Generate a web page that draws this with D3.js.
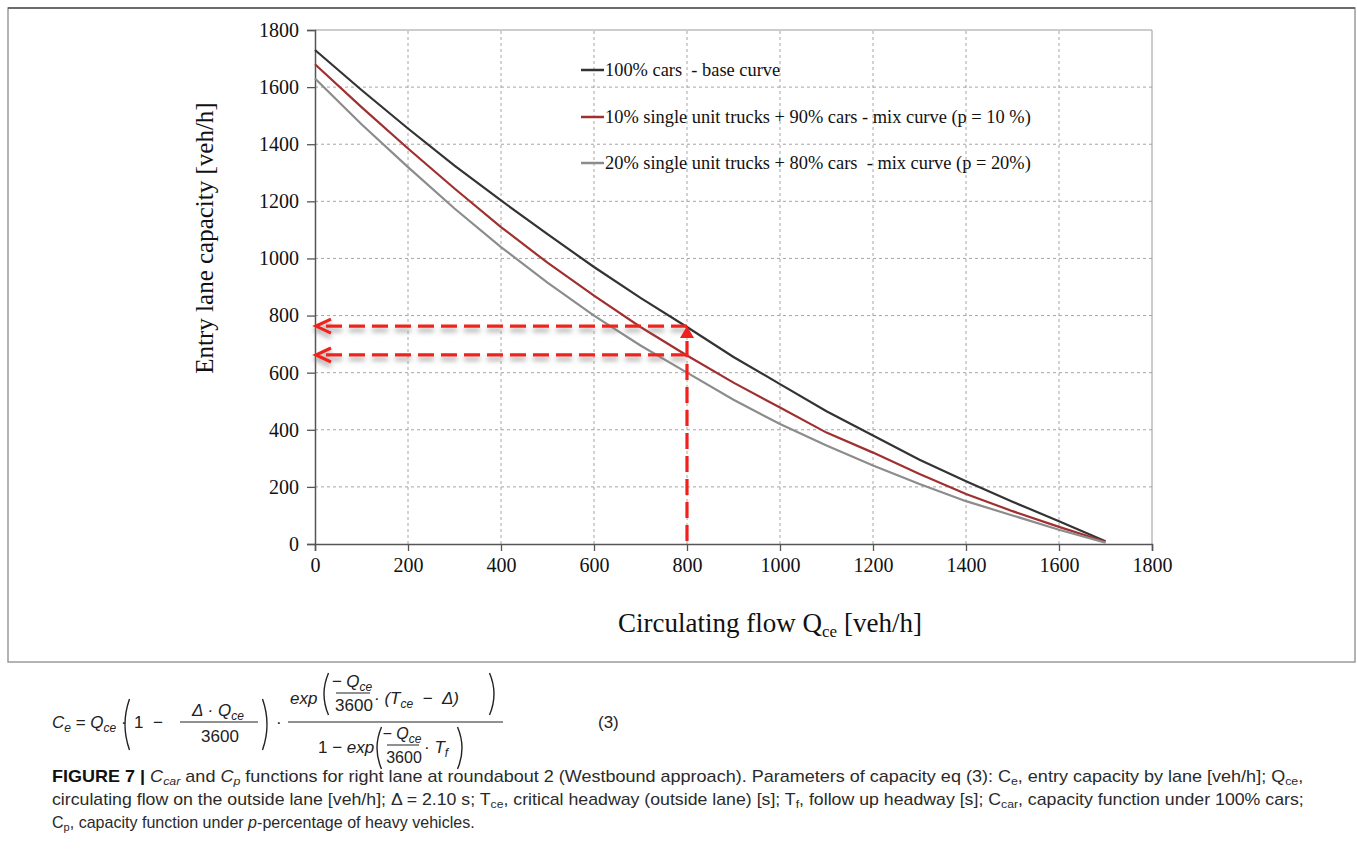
<!DOCTYPE html>
<html><head><meta charset="utf-8">
<script src="https://cdn.jsdelivr.net/npm/d3@7/dist/d3.min.js"></script>
<style>
html,body{margin:0;padding:0;background:#fff;}
svg{display:block;}
</style></head>
<body>
<svg id="chart" width="1357" height="852"></svg>
<script>
// ---- data ----
const flows = [0,100,200,300,400,500,600,700,800,900,1000,1100,1200,1300,1400,1500,1600,1700];
const baseCurve = [1730,1590,1455,1325,1203,1085,970,862,760,655,560,465,380,295,220,148,80,10];
const mix10Curve = [1680,1530,1385,1245,1110,985,870,760,660,565,478,390,320,245,175,115,60,8];
const mix20Curve = [1630,1470,1320,1175,1040,915,800,695,600,505,420,345,275,210,150,100,50,5];
const seriesNames = ["100% cars  - base curve","10% single unit trucks + 90% cars - mix curve (p = 10 %)","20% single unit trucks + 80% cars  - mix curve (p = 20%)"];
const xTicks = [0,200,400,600,800,1000,1200,1400,1600,1800];
const yTicks = [0,200,400,600,800,1000,1200,1400,1600,1800];
const refFlow = 800;
const refCapBase = 763;
const refCapMix = 662;

const svg = d3.select("#chart");
const serif = "'Liberation Serif','Times New Roman',serif";
const sans = "'Liberation Sans',Arial,sans-serif";

// frame
svg.append("rect").attr("x",8).attr("y",8).attr("width",1347).attr("height",654)
  .attr("fill","none").attr("stroke","#9a9a9a").attr("stroke-width",1.5);
svg.append("line").attr("x1",8).attr("x2",1355).attr("y1",8).attr("y2",8).attr("stroke","#555").attr("stroke-width",1.5);

const x = d3.scaleLinear().domain([0,1800]).range([315,1152]);
const y = d3.scaleLinear().domain([0,1800]).range([544,30]);

// grid
const g = svg.append("g");
g.selectAll("line.vg").data(xTicks.filter(d=>d>0 && d<1800)).enter().append("line")
  .attr("x1",d=>x(d)).attr("x2",d=>x(d)).attr("y1",y(0)).attr("y2",y(1800))
  .attr("stroke","#a6a6a6").attr("stroke-width",1).attr("stroke-dasharray","3,3");
g.selectAll("line.hg").data(yTicks.filter(d=>d>0 && d<1800)).enter().append("line")
  .attr("x1",x(0)).attr("x2",x(1800)).attr("y1",d=>y(d)).attr("y2",d=>y(d))
  .attr("stroke","#a6a6a6").attr("stroke-width",1).attr("stroke-dasharray","3,3");
g.append("line").attr("x1",x(0)).attr("x2",x(1800)).attr("y1",y(1800)).attr("y2",y(1800)).attr("stroke","#9a9a9a");
g.append("line").attr("x1",x(1800)).attr("x2",x(1800)).attr("y1",y(1800)).attr("y2",y(0)).attr("stroke","#9a9a9a");

// axes
const xAxis = svg.append("g").attr("transform",`translate(0,${y(0)})`)
  .call(d3.axisBottom(x).tickValues(xTicks).tickSize(7).tickPadding(7).tickFormat(d3.format("d")));
const yAxis = svg.append("g").attr("transform",`translate(${x(0)},0)`)
  .call(d3.axisLeft(y).tickValues(yTicks).tickSize(8).tickPadding(8).tickFormat(d3.format("d")));
[xAxis,yAxis].forEach(a=>{
  a.select(".domain").attr("stroke","#555").attr("stroke-width",1.5);
  a.selectAll(".tick line").attr("stroke","#555").attr("stroke-width",1.3);
  a.selectAll(".tick text").attr("font-family",serif).attr("font-size",20).attr("fill","#111");
});

// curves
const colors = ["#333333","#a03030","#8c8c8c"];
const data = [baseCurve,mix10Curve,mix20Curve];
const line = d3.line().x((d,i)=>x(flows[i])).y(d=>y(d));
data.forEach((s,k)=>{
  svg.append("path").datum(s).attr("d",line).attr("fill","none")
    .attr("stroke",colors[k]).attr("stroke-width",2.2);
});

// legend
const legY = [70,117,163];
seriesNames.forEach((n,k)=>{
  svg.append("line").attr("x1",581).attr("x2",604).attr("y1",legY[k]).attr("y2",legY[k])
    .attr("stroke",colors[k]).attr("stroke-width",2.5);
  svg.append("text").attr("x",605).attr("y",legY[k]+6).text(n)
    .attr("font-family",serif).attr("font-size",18.4).attr("fill","#111")
    .style("white-space","pre");
});

// axis titles
svg.append("text").attr("transform",`translate(213,238) rotate(-90)`).attr("text-anchor","middle")
  .attr("font-family",serif).attr("font-size",25).attr("fill","#111").text("Entry lane capacity [veh/h]");
const xt = svg.append("text").attr("x",770).attr("y",632).attr("text-anchor","middle")
  .attr("font-family",serif).attr("font-size",27).attr("fill","#111");
xt.append("tspan").text("Circulating flow Q");
xt.append("tspan").attr("font-size",17).attr("dy",5).text("ce");
xt.append("tspan").attr("dy",-5).text(" [veh/h]");

// red dashed arrows
const defs = svg.append("defs");
const f = defs.append("filter").attr("id","sh").attr("x","-10%").attr("y","-200%").attr("width","120%").attr("height","500%");
f.append("feDropShadow").attr("dx",0).attr("dy",4).attr("stdDeviation",2.5).attr("flood-color","#777").attr("flood-opacity",0.7);
const red = "#f0201c";
const ag = svg.append("g");
function hArrow(v){
  const gg = ag.append("g").attr("filter","url(#sh)");
  gg.append("line").attr("x1",x(refFlow)).attr("x2",x(0)+3).attr("y1",y(v)).attr("y2",y(v))
    .attr("stroke",red).attr("stroke-width",3.2).attr("stroke-dasharray","16,7");
  gg.append("path").attr("d",`M${x(0)+16},${y(v)-7} L${x(0)+1},${y(v)} L${x(0)+16},${y(v)+7}`)
    .attr("fill","none").attr("stroke",red).attr("stroke-width",3.2);
}
hArrow(refCapBase);
hArrow(refCapMix);
ag.append("line").attr("x1",x(refFlow)).attr("x2",x(refFlow)).attr("y1",y(0)-3).attr("y2",y(refCapBase)+8)
  .attr("stroke",red).attr("stroke-width",3.2).attr("stroke-dasharray","16,7");
ag.append("path").attr("d",`M${x(refFlow)-7},${y(refCapBase)+12} L${x(refFlow)},${y(refCapBase)} L${x(refFlow)+7},${y(refCapBase)+12} Z`)
  .attr("fill",red);

// ---- equation ----
const eq = svg.append("g").attr("font-family",sans).attr("fill","#222").attr("font-size",17);
function T(xp,yp,parts,anchor,fs){
  const t = eq.append("text").attr("x",xp).attr("y",yp).attr("text-anchor",anchor||"start").style("white-space","pre");
  if(fs) t.attr("font-size",fs);
  parts.forEach(p=>{
    const s = t.append("tspan").text(p[0]);
    if(p[1] && p[1].includes("i")) s.attr("font-style","italic");
    if(p[1] && p[1].includes("s")) s.attr("font-size",12).attr("dy",4);
    if(p[1] && p[1].includes("u")) s.attr("dy",-4);
  });
  return t;
}
function paren(xp,ytop,ybot,ch){
  const b = ch==="(" ? -5 : 5;
  const mid = (ytop+ybot)/2;
  eq.append("path").attr("d",`M${xp-b/2},${ytop} Q${xp+b*1.3},${mid} ${xp-b/2},${ybot}`)
    .attr("fill","none").attr("stroke","#222").attr("stroke-width",1.4);
}
function bar(x1,x2,yp){ eq.append("line").attr("x1",x1).attr("x2",x2).attr("y1",yp).attr("y2",yp).attr("stroke","#222").attr("stroke-width",1); }

T(52,728,[["C","i"],["e","is"],[" = ","u"],["Q","i"],["ce","is"],[" ·","u"]]);
paren(127,699,750,"(");
T(134,728,[["1  −"]]);
T(218,716,[["Δ · Q","i"],["ce","is"]],"middle");
bar(180,258,722);
T(220,742,[["3600"]],"middle");
paren(265,699,750,")");
T(276,728,[["·"]]);
// big fraction
bar(288,503,722);
T(290,704,[["exp","i"]]);
paren(326,673,715,"(");
T(352,687,[["− Q","i"],["ce","is"]],"middle");
bar(336,370,693);
T(354,711,[["3600"]],"middle");
T(374,704,[["· (T","i"],["ce","is"],["  −  Δ)","iu"]]);
paren(492,673,715,")");
T(318,753,[["1 − "],["exp","i"]]);
paren(379,727,769,"(");
T(402,739,[["− Q","i"],["ce","is"]],"middle",16);
bar(387,419,745);
T(404,763,[["3600"]],"middle",16);
T(424,753,[["· T","i"],["f","is"]]);
paren(460,727,769,")");
T(598,728,[["(3)"]]);

// ---- caption ----
const cap = svg.append("g").attr("font-family",sans).attr("font-size",16).attr("fill","#2a2a2a");
function capLine(yp,parts,targetW){
  const gg = cap.append("g");
  const t = gg.append("text").attr("x",0).attr("y",0).style("white-space","pre");
  parts.forEach(p=>{
    const s = t.append("tspan").text(p[0]);
    if(p[1]&&p[1].includes("b")) s.attr("font-weight","bold").attr("fill","#111");
    if(p[1]&&p[1].includes("i")) s.attr("font-style","italic");
    if(p[1]&&p[1].includes("s")) s.attr("font-size",11).attr("dy",3);
    if(p[1]&&p[1].includes("u")) s.attr("dy",-3);
  });
  const w = t.node().getComputedTextLength();
  gg.attr("transform",`translate(52,${yp}) scale(${targetW/w},1)`);
}
capLine(782,[["FIGURE 7 | ","b"],["C","i"],["car","is"],[" and ","u"],["C","i"],["p","is"],[" functions for right lane at roundabout 2 (Westbound approach). Parameters of capacity eq (3): C","u"],["e","s"],[", entry capacity by lane [veh/h]; Q","u"],["ce","s"],[",","u"]],1252);
capLine(805,[["circulating flow on the outside lane [veh/h]; Δ = 2.10 s; T"],["ce","s"],[", critical headway (outside lane) [s]; T","u"],["f","s"],[", follow up headway [s]; C","u"],["car","s"],[", capacity function under 100% cars;","u"]],1253);
capLine(828,[["C"],["p","s"],[", capacity function under ","u"],["p","i"],["-percentage of heavy vehicles."]],423);
</script>
</body></html>
